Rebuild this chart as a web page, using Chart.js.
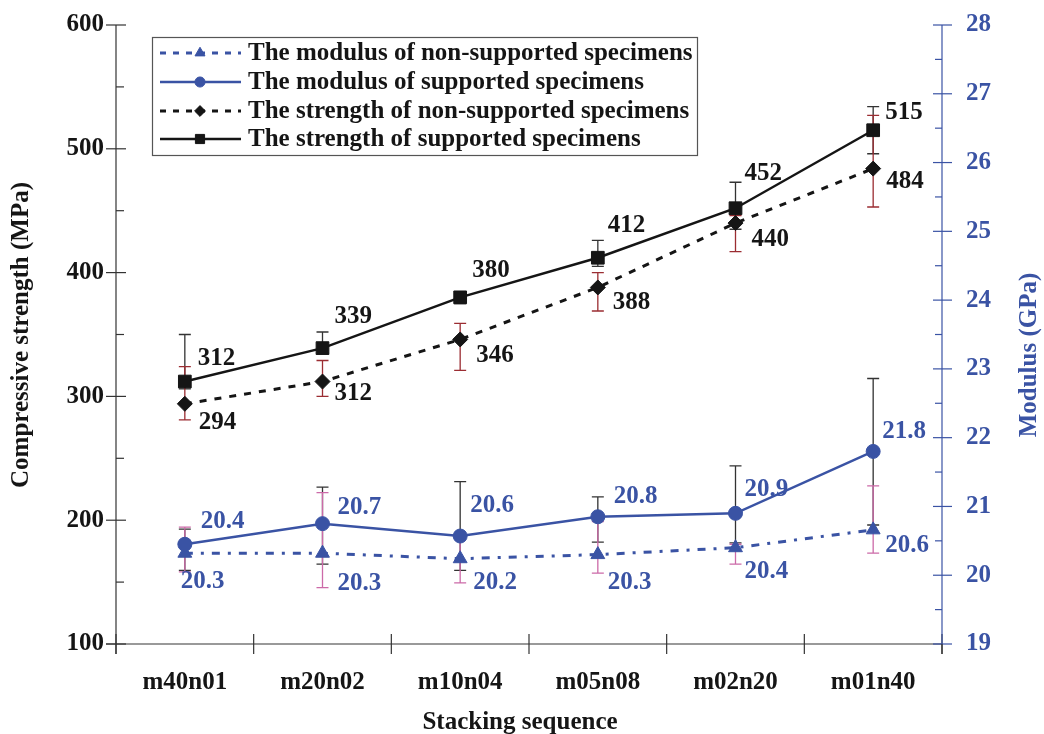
<!DOCTYPE html>
<html>
<head>
<meta charset="utf-8">
<script src="https://cdn.jsdelivr.net/npm/chart.js@4.4.1/dist/chart.umd.min.js"></script>
<style>
html,body{margin:0;padding:0;background:#fff;}
#wrap{width:1044px;height:734px;position:relative;}
</style>
</head>
<body>
<div id="wrap"><canvas id="c" width="1044" height="734"></canvas></div>
<script>
// ---------- data ----------
const categories = ['m40n01','m20n02','m10n04','m05n08','m02n20','m01n40'];

const strengthSupported    = [312, 339, 380, 412, 452, 515];
const strengthSupLow       = [306, 335, 375, 405, 435, 496];
const strengthSupHigh      = [350, 352, 384, 426, 473, 534];

const strengthNonSupported = [294, 312, 346, 388, 440, 484];
const strengthNonLow       = [281, 300, 321, 369, 417, 453];
const strengthNonHigh      = [324, 329, 359, 400, 446, 527];

const modulusSupported     = [20.45, 20.75, 20.57, 20.85, 20.9, 21.8];
const modulusSupLow        = [20.07, 20.16, 20.07, 20.48, 20.47, 20.73];
const modulusSupHigh       = [20.67, 21.28, 21.36, 21.14, 21.59, 22.86];
const modulusSupLabels     = ['20.4','20.7','20.6','20.8','20.9','21.8'];

const modulusNonSupported  = [20.32, 20.32, 20.24, 20.3, 20.4, 20.66];
const modulusNonLow        = [20.05, 19.82, 19.89, 20.03, 20.16, 20.32];
const modulusNonHigh       = [20.7, 21.2, 20.6, 20.78, 20.45, 21.3];
const modulusNonLabels     = ['20.3','20.3','20.2','20.3','20.4','20.6'];

const strengthTicks = [100, 200, 300, 400, 500, 600];
const strengthMinorTicks = [150, 250, 350, 450, 550];
const modulusTicks = [19, 20, 21, 22, 23, 24, 25, 26, 27, 28];
const modulusMinorTicks = [19.5, 20.5, 21.5, 22.5, 23.5, 24.5, 25.5, 26.5, 27.5];

const xTitle = 'Stacking sequence';
const yTitle = 'Compressive strength (MPa)';
const y2Title = 'Modulus (GPa)';

const legendNames = [
  'The modulus of non-supported specimens',
  'The modulus of supported specimens',
  'The strength of non-supported specimens',
  'The strength of supported specimens'
];

// ---------- styles ----------
const BLUE = '#3a53a4';
const INK = '#151515';
const FONT = 'Liberation Serif, "Times New Roman", serif';
const FS = 25;
const labelShift = {
  sSup: {dx:[13,12,12,10,9,12], dy:[-23,-32,-27,-32,-35,-18]},
  sNon: {dx:[14,12,16,15,16,13], dy:[19,12,16,15,16,13]},
  mSup: {dx:[16,15,10,16,9,9],   dy:[-23,-16,-30,-20,-24,-20]},
  mNon: {dx:[-4,15,13,10,9,12],  dy:[28,30,24,28,24,16]}
};

const datasets = [
  {label: legendNames[3], key:'sSup', data: strengthSupported, yAxisID:'y',
   borderColor:INK, backgroundColor:INK, borderWidth:2.5,
   pointStyle:'rect', pointRadius:9, pointHoverRadius:9,
   errLow: strengthSupLow, errHigh: strengthSupHigh, errColor:'#333333',
   labels: strengthSupported.map(String), labelColor:INK, legendDash:[]},
  {label: legendNames[2], key:'sNon', data: strengthNonSupported, yAxisID:'y',
   borderColor:INK, backgroundColor:INK, borderWidth:3, borderDash:[7,8],
   pointStyle:'rectRot', pointRadius:7.5, pointHoverRadius:7.5,
   errLow: strengthNonLow, errHigh: strengthNonHigh, errColor:'#9b2d32',
   labels: strengthNonSupported.map(String), labelColor:INK, legendDash:[6,7]},
  {label: legendNames[1], key:'mSup', data: modulusSupported, yAxisID:'y2',
   borderColor:BLUE, backgroundColor:BLUE, borderWidth:2.5,
   pointStyle:'circle', pointRadius:7, pointHoverRadius:7,
   errLow: modulusSupLow, errHigh: modulusSupHigh, errColor:'#333333',
   labels: modulusSupLabels, labelColor:BLUE, legendDash:[]},
  {label: legendNames[0], key:'mNon', data: modulusNonSupported, yAxisID:'y2',
   borderColor:BLUE, backgroundColor:BLUE, borderWidth:3, borderDash:[8,8,3,8],
   pointStyle:'triangle', pointRadius:8, pointHoverRadius:8,
   errLow: modulusNonLow, errHigh: modulusNonHigh, errColor:'#cc6aa8',
   labels: modulusNonLabels, labelColor:BLUE, legendDash:[6,7]}
];

// ---------- plugins ----------
const axesPlugin = {
  id:'axesDraw',
  afterDatasetsDraw(chart){
    const {ctx, chartArea:a, scales} = chart;
    ctx.save();
    ctx.strokeStyle = '#777'; ctx.lineWidth = 1.5;
    ctx.beginPath(); ctx.moveTo(106, a.bottom); ctx.lineTo(a.right, a.bottom); ctx.stroke();
    ctx.strokeStyle = '#333'; ctx.lineWidth = 1.2;
    const xs = scales.x;
    const step = xs.getPixelForTick(1) - xs.getPixelForTick(0);
    for (let i = 0; i <= categories.length; i++) {
      const px = i < categories.length ? xs.getPixelForTick(i) - step/2 : a.right;
      ctx.beginPath(); ctx.moveTo(px, a.bottom-10); ctx.lineTo(px, a.bottom+10); ctx.stroke();
    }
    ctx.strokeStyle = '#333'; ctx.lineWidth = 1.2;
    ctx.beginPath(); ctx.moveTo(a.left, a.top); ctx.lineTo(a.left, a.bottom+10); ctx.stroke();
    strengthTicks.forEach(v=>{const py=scales.y.getPixelForValue(v);
      ctx.beginPath(); ctx.moveTo(a.left-10, py); ctx.lineTo(a.left+10, py); ctx.stroke();});
    strengthMinorTicks.forEach(v=>{const py=scales.y.getPixelForValue(v);
      ctx.beginPath(); ctx.moveTo(a.left, py); ctx.lineTo(a.left+8, py); ctx.stroke();});
    ctx.strokeStyle = BLUE;
    ctx.beginPath(); ctx.moveTo(a.right, a.top); ctx.lineTo(a.right, a.bottom); ctx.stroke();
    modulusTicks.forEach(v=>{const py=scales.y2.getPixelForValue(v);
      ctx.beginPath(); ctx.moveTo(a.right-9, py); ctx.lineTo(a.right+10, py); ctx.stroke();});
    modulusMinorTicks.forEach(v=>{const py=scales.y2.getPixelForValue(v);
      ctx.beginPath(); ctx.moveTo(a.right-7, py); ctx.lineTo(a.right, py); ctx.stroke();});
    ctx.strokeStyle = '#333';
    ctx.beginPath(); ctx.moveTo(a.right, a.bottom); ctx.lineTo(a.right, a.bottom+10); ctx.stroke();
    ctx.restore();
  }
};

const errorBarPlugin = {
  id:'errBars',
  beforeDatasetsDraw(chart){
    const {ctx, scales} = chart;
    ctx.save();
    chart.data.datasets.forEach((ds)=>{
      const ys = scales[ds.yAxisID];
      ctx.strokeStyle = ds.errColor; ctx.lineWidth = 1.3;
      ds.data.forEach((v, i)=>{
        const px = scales.x.getPixelForValue(i);
        const pl = ys.getPixelForValue(ds.errLow[i]);
        const ph = ys.getPixelForValue(ds.errHigh[i]);
        ctx.beginPath();
        ctx.moveTo(px, pl); ctx.lineTo(px, ph);
        ctx.moveTo(px-6, pl); ctx.lineTo(px+6, pl);
        ctx.moveTo(px-6, ph); ctx.lineTo(px+6, ph);
        ctx.stroke();
      });
    });
    ctx.restore();
  }
};

const labelPlugin = {
  id:'valLabels',
  afterDatasetsDraw(chart){
    const {ctx} = chart;
    ctx.save();
    ctx.font = 'bold ' + FS + 'px ' + FONT;
    ctx.textAlign = 'left'; ctx.textBaseline = 'middle';
    chart.data.datasets.forEach((ds, di)=>{
      const meta = chart.getDatasetMeta(di);
      const sh = labelShift[ds.key];
      ctx.fillStyle = ds.labelColor;
      meta.data.forEach((pt, i)=>{
        ctx.fillText(ds.labels[i], pt.x + sh.dx[i], pt.y + sh.dy[i]);
      });
    });
    ctx.restore();
  }
};

const titlesPlugin = {
  id:'axisTitles',
  afterDraw(chart){
    const {ctx} = chart;
    ctx.save();
    ctx.font = 'bold ' + FS + 'px ' + FONT;
    ctx.textAlign = 'center';
    ctx.textBaseline = 'alphabetic';
    ctx.fillStyle = INK;
    ctx.fillText(xTitle, 520, 729);
    ctx.textBaseline = 'middle';
    ctx.translate(22, 335); ctx.rotate(-Math.PI/2);
    ctx.fillText(yTitle, 0, 0);
    ctx.setTransform(1,0,0,1,0,0);
    ctx.fillStyle = BLUE;
    ctx.translate(1030, 355); ctx.rotate(-Math.PI/2);
    ctx.fillText(y2Title, 0, 0);
    ctx.restore();
  }
};

const legendPlugin = {
  id:'customLegend',
  afterDraw(chart){
    const {ctx} = chart;
    ctx.save();
    ctx.fillStyle = '#fff'; ctx.strokeStyle = '#555'; ctx.lineWidth = 1.2;
    ctx.fillRect(152, 37, 545, 118);
    ctx.strokeRect(152.5, 37.5, 545, 118);
    const order = [3, 2, 1, 0];
    const rowY = [53, 82, 111, 139];
    order.forEach((di, r)=>{
      const ds = chart.data.datasets[di];
      const y = rowY[r];
      ctx.strokeStyle = ds.borderColor; ctx.lineWidth = ds.borderWidth;
      ctx.setLineDash(ds.legendDash);
      ctx.beginPath(); ctx.moveTo(160, y); ctx.lineTo(241, y); ctx.stroke();
      ctx.setLineDash([]);
      ctx.fillStyle = ds.backgroundColor; ctx.strokeStyle = ds.borderColor; ctx.lineWidth = 1;
      Chart.helpers.drawPoint(ctx, {pointStyle: ds.pointStyle, radius: ds.pointRadius*0.72, borderWidth: 1, rotation: 0}, 200, y);
      ctx.fillStyle = INK;
      ctx.font = 'bold ' + FS + 'px ' + FONT;
      ctx.textAlign = 'left'; ctx.textBaseline = 'middle';
      ctx.fillText(ds.label, 248, y + 1);
    });
    ctx.restore();
  }
};

function fixV(w){ return function(s){ s.width = w; s.paddingTop = 0; s.paddingBottom = 0; }; }

// ---------- chart ----------
new Chart(document.getElementById('c'), {
  type:'line',
  data:{labels: categories, datasets: datasets.map(d=>Object.assign({fill:false, tension:0, pointBorderWidth:1}, d))},
  options:{
    responsive:false, animation:false, maintainAspectRatio:false,
    layout:{padding:{top:25, left:0, right:0, bottom:0}},
    plugins:{legend:{display:false}, tooltip:{enabled:false}},
    scales:{
      x:{type:'category', offset:true,
         grid:{display:false, drawTicks:false}, border:{display:false},
         ticks:{color:INK, padding:24, font:{family:FONT, size:FS, weight:'bold'}},
         afterFit(s){ s.height = 90; s.paddingLeft = 0; s.paddingRight = 0; }},
      y:{type:'linear', position:'left', min:100, max:600,
         grid:{display:false, drawTicks:false}, border:{display:false},
         ticks:{stepSize:100, color:INK, padding:12, font:{family:FONT, size:FS, weight:'bold'}},
         afterFit: fixV(116)},
      y2:{type:'linear', position:'right', min:19, max:28,
         grid:{display:false, drawTicks:false}, border:{display:false},
         ticks:{stepSize:1, color:BLUE, padding:24, font:{family:FONT, size:FS, weight:'bold'}},
         afterFit: fixV(102)}
    }
  },
  plugins:[errorBarPlugin, axesPlugin, labelPlugin, titlesPlugin, legendPlugin]
});
</script>
</body>
</html>
